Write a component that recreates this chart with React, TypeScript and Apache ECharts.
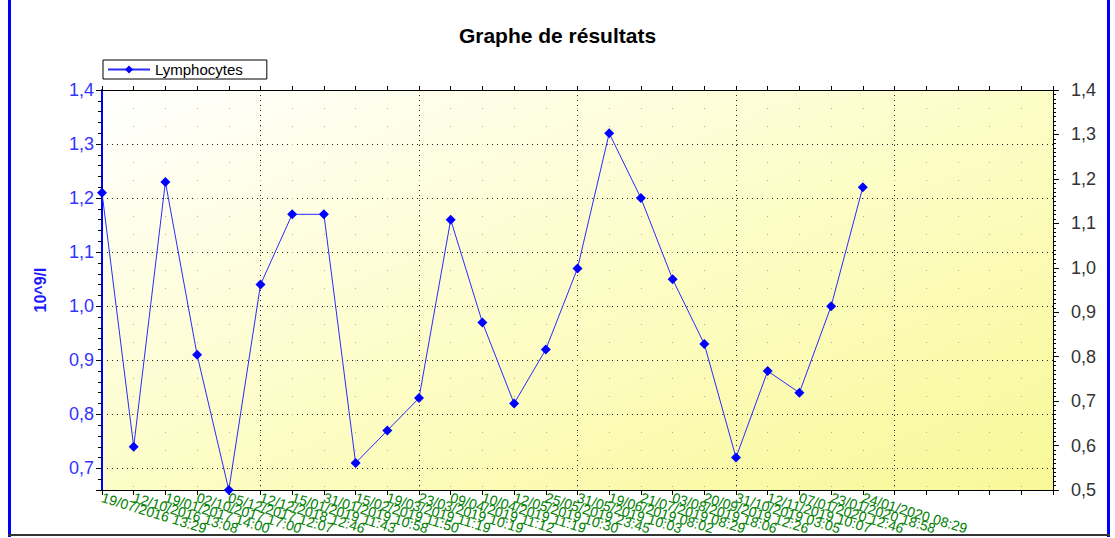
import React, { useEffect, useRef } from "react";
import * as echarts from "echarts";

const dateLabels: string[] = [
  "19/07/2016 13:29",
  "12/10/2016 13:08",
  "19/01/2017 14:00",
  "02/10/2017 17:00",
  "05/12/2017 12:07",
  "12/12/2018 12:46",
  "15/01/2019 11:43",
  "31/01/2019 10:58",
  "15/02/2019 11:50",
  "19/03/2019 11:19",
  "23/03/2019 10:19",
  "09/04/2019 11:12",
  "10/04/2019 11:19",
  "12/05/2019 10:30",
  "25/05/2019 23:45",
  "31/05/2019 10:03",
  "19/06/2019 08:02",
  "21/07/2019 08:29",
  "03/08/2019 18:06",
  "20/09/2019 12:26",
  "31/10/2019 03:05",
  "12/11/2019 10:07",
  "07/01/2020 12:46",
  "23/01/2020 18:58",
  "24/01/2020 08:29",
];

const emptySlots: string[] = ["", "", "", "", "", ""];

const lymphocytes: number[] = [
  1.21, 0.74, 1.23, 0.91, 0.66, 1.04, 1.17, 1.17, 0.71, 0.77, 0.83, 1.16, 0.97,
  0.82, 0.92, 1.07, 1.32, 1.2, 1.05, 0.93, 0.72, 0.88, 0.84, 1.0, 1.22,
];

const leftMin = 0.66;
const leftMax = 1.4;
const rightMin = 0.5;
const rightMax = 1.4;

const fmt = (v: number) => v.toFixed(1).replace(".", ",");

export default function App() {
  const ref = useRef<HTMLDivElement>(null);
  useEffect(() => {
    if (!ref.current) return;
    const chart = echarts.init(ref.current, null, { renderer: "svg" });
    const categories = [...dateLabels, ...emptySlots];
    const font = "Liberation Sans, Arial, sans-serif";
    chart.setOption({
      animation: false,
      backgroundColor: "#ffffff",
      textStyle: { fontFamily: font },
      title: {
        text: "Graphe de résultats",
        left: "center",
        top: 20,
        textStyle: { fontSize: 21, fontWeight: "bold", color: "#000", fontFamily: font },
      },
      legend: {
        left: 103,
        top: 60,
        backgroundColor: "#ffffff",
        borderColor: "#000",
        borderWidth: 1,
        borderRadius: 0,
        padding: [2, 24, 2, 4],
        itemWidth: 42,
        itemHeight: 10,
        textStyle: { fontSize: 15, color: "#000", fontFamily: font },
        data: ["Lymphocytes"],
      },
      grid: {
        left: 102,
        right: 62,
        top: 90,
        bottom: 48,
        show: true,
        borderWidth: 0,
        backgroundColor: new echarts.graphic.LinearGradient(0, 0, 1, 1, [
          { offset: 0, color: "#ffffff" },
          { offset: 0.5, color: "#fdfdc8" },
          { offset: 1, color: "#f8f898" },
        ]),
      },
      xAxis: [
        {
          type: "category",
          data: categories,
          boundaryGap: false,
          position: "bottom",
          axisLine: { lineStyle: { color: "#000", width: 1 } },
          axisTick: { show: true, interval: 0, length: 5, lineStyle: { color: "#000" } },
          axisLabel: {
            interval: 0,
            rotate: -17,
            color: "#008000",
            fontSize: 14,
            margin: 7,
            fontFamily: font,
          },
          splitLine: {
            show: true,
            interval: (i: number) => i % 5 === 0 && i > 0,
            lineStyle: { color: "#222", type: [1, 4], width: 1 },
          },
        },
        {
          type: "category",
          data: categories,
          boundaryGap: false,
          position: "top",
          axisLine: { lineStyle: { color: "#000", width: 1 } },
          axisTick: { show: true, interval: 0, length: 4, lineStyle: { color: "#000" } },
          axisLabel: { show: false },
          splitLine: {
            show: true,
            interval: 0,
            lineStyle: { color: "#b0b0a0", type: [1, 17], width: 1 },
          },
        },
      ],
      yAxis: [
        {
          type: "value",
          min: leftMin,
          max: leftMax,
          splitNumber: 7,
          position: "left",
          name: "10^9/l",
          nameLocation: "middle",
          nameGap: 54,
          nameRotate: 90,
          nameTextStyle: { color: "#1a1aff", fontWeight: "bold", fontSize: 16, fontFamily: font },
          axisLine: { show: true, lineStyle: { color: "#0000ff", width: 2 } },
          axisTick: { show: true, length: 6, lineStyle: { color: "#000" } },
          minorTick: { show: true, splitNumber: 5, length: 4, lineStyle: { color: "#000" } },
          axisLabel: {
            showMinLabel: false,
            color: "#3333ff",
            fontSize: 18,
            margin: 8,
            formatter: (v: number) => fmt(v),
            fontFamily: font,
          },
          splitLine: { show: true, lineStyle: { color: "#222", type: [1, 4], width: 1 } },
        },
        {
          type: "value",
          min: rightMin,
          max: rightMax,
          interval: 0.1,
          position: "right",
          axisLine: { show: true, lineStyle: { color: "#000", width: 1 } },
          axisTick: { show: true, length: 6, lineStyle: { color: "#000" } },
          minorTick: { show: true, splitNumber: 10, length: 3, lineStyle: { color: "#000" } },
          axisLabel: {
            color: "#333",
            fontSize: 18,
            margin: 18,
            formatter: (v: number) => fmt(v),
            fontFamily: font,
          },
          splitLine: { show: false },
        },
      ],
      series: [
        {
          name: "Lymphocytes",
          type: "line",
          xAxisIndex: 0,
          yAxisIndex: 0,
          data: lymphocytes,
          symbol: "diamond",
          symbolSize: 10,
          showAllSymbol: true,
          lineStyle: { color: "#2a2aff", width: 1 },
          itemStyle: { color: "#0000ff" },
        },
      ],
      graphic: [
        { type: "rect", shape: { x: 8, y: 0, width: 3, height: 537 }, style: { fill: "#0000ff" }, silent: true },
        { type: "rect", shape: { x: 1107, y: 0, width: 3, height: 537 }, style: { fill: "#0000ff" }, silent: true },
        { type: "rect", shape: { x: 8, y: 534, width: 1102, height: 2 }, style: { fill: "#333" }, silent: true },
      ],
    });
    return () => chart.dispose();
  }, []);
  return (
    <div
      ref={ref}
      style={{ position: "fixed", left: 0, top: 0, width: 1115, height: 538 }}
    />
  );
}
